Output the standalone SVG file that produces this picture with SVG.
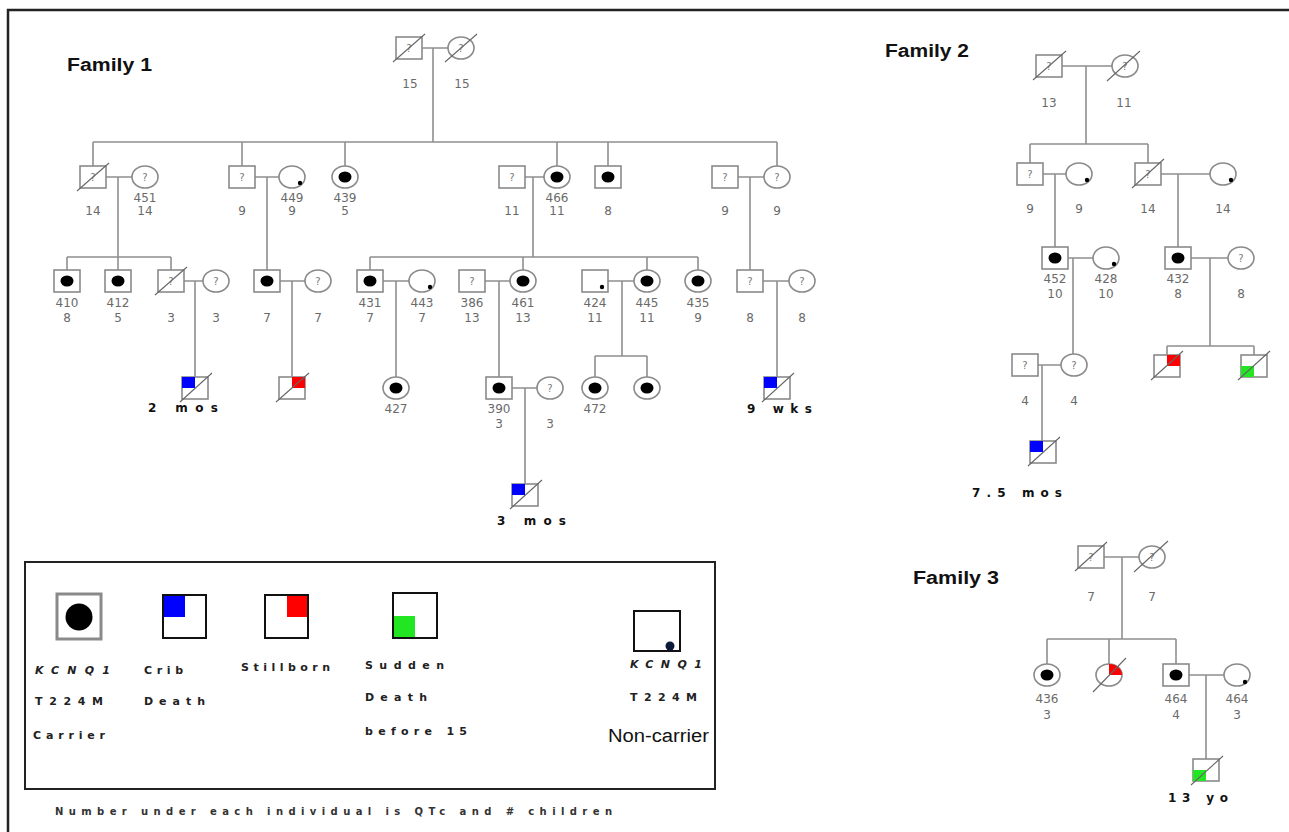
<svg xmlns="http://www.w3.org/2000/svg" width="1289" height="832" viewBox="0 0 1289 832">
<style>
.ln{stroke:#8f8f8f;stroke-width:1.6;fill:none}
.sym{fill:#fff;stroke:#8a8a8a;stroke-width:1.6}
.dec{stroke:#666;stroke-width:1.1}
.car{fill:#000}
.dot{fill:#000}
.num{font-family:"DejaVu Sans",sans-serif;font-size:12px;fill:#6a6a6a;text-anchor:middle}
.q{font-family:"DejaVu Sans",sans-serif;font-size:10px;fill:#777;text-anchor:middle}
.tag{font-family:"DejaVu Sans",sans-serif;font-weight:bold;font-size:12px;fill:#111}
.fam{font-family:"Liberation Sans",Arial,sans-serif;font-weight:bold;font-size:18px;fill:#111}
.leg{font-family:"DejaVu Sans",sans-serif;font-weight:bold;font-size:11px;fill:#222}
.blue{fill:#0000ff}.red{fill:#ff0000}.green{fill:#22e622}
.lsq{fill:#fff;stroke:#111;stroke-width:2}
</style>
<rect width="1289" height="832" fill="#fff"/>
<path d="M8,832V10H1289" fill="none" stroke="#222" stroke-width="2.5"/>

<text class="fam" x="67" y="71" textLength="85" lengthAdjust="spacingAndGlyphs">Family 1</text>
<text class="fam" x="885" y="57" textLength="84" lengthAdjust="spacingAndGlyphs">Family 2</text>
<text class="fam" x="913" y="584" textLength="86" lengthAdjust="spacingAndGlyphs">Family 3</text>

<g id="connectors">
<path class="ln" d="M422,48H448M433,48V142M93,142H777M93,142V166M242,142V166M345,142V166M557,142V166M608,142V166M777,142V166"/>
<path class="ln" d="M106,177H132M118,177V270M67,257H171M67,257V270M171,257V270"/>
<path class="ln" d="M255,177H279M267,177V270"/>
<path class="ln" d="M525,177H544M533,177V257M370,257H698M370,257V270M523,257V270M647,257V270M698,257V270"/>
<path class="ln" d="M738,177H764M750,177V270"/>
<path class="ln" d="M184,281H203M195,281V377M280,281H305M292,281V377M383,281H409M396,281V377M485,281H510M499,281V377"/>
<path class="ln" d="M608,281H634M622,281V356M595,356H647M595,356V377M647,356V377M763,281H789M777,281V377"/>
<path class="ln" d="M512,388H537M525,388V484"/>
<path class="ln" d="M1062,66H1112M1086,66V144M1030,144H1148M1030,144V163M1148,144V163"/>
<path class="ln" d="M1043,174H1066M1055,174V247M1161,174H1210M1178,174V247"/>
<path class="ln" d="M1068,258H1093M1073,258V354M1191,258H1228M1210,258V346M1167,346H1254M1167,346V355M1254,346V355"/>
<path class="ln" d="M1038,365H1061M1042,365V441"/>
<path class="ln" d="M1104,557H1139M1122,557V639M1047,639H1176M1047,639V664M1109,639V664M1176,639V664"/>
<path class="ln" d="M1189,675H1224M1206,675V759"/>
</g>

<!-- Family 1 -->
<g id="f1-i1"><rect class="sym" x="396" y="37" width="26" height="22"/><text class="q" x="409" y="52">?</text><line class="dec" x1="393" y1="62" x2="425" y2="34"/><text class="num" x="410" y="88">15</text></g>
<g id="f1-i2"><ellipse class="sym" cx="461" cy="48" rx="13" ry="11"/><text class="q" x="461" y="52">?</text><line class="dec" x1="445" y1="62" x2="477" y2="34"/><text class="num" x="462" y="88">15</text></g>

<g id="f1-ii1"><rect class="sym" x="80" y="166" width="26" height="22"/><text class="q" x="93" y="181">?</text><line class="dec" x1="77" y1="191" x2="109" y2="163"/><text class="num" x="93" y="215">14</text></g>
<g id="f1-ii2"><ellipse class="sym" cx="145" cy="177" rx="13" ry="11"/><text class="q" x="145" y="181">?</text><text class="num" x="145" y="202">451</text><text class="num" x="145" y="215">14</text></g>
<g id="f1-ii3"><rect class="sym" x="229" y="166" width="26" height="22"/><text class="q" x="242" y="181">?</text><text class="num" x="242" y="215">9</text></g>
<g id="f1-ii4"><ellipse class="sym" cx="292" cy="177" rx="13" ry="11"/><circle class="dot" cx="300" cy="183" r="2.2"/><text class="num" x="292" y="202">449</text><text class="num" x="292" y="215">9</text></g>
<g id="f1-ii5"><ellipse class="sym" cx="345" cy="177" rx="13" ry="11"/><ellipse class="car" cx="345" cy="177" rx="6.5" ry="5.5"/><text class="num" x="345" y="202">439</text><text class="num" x="345" y="215">5</text></g>
<g id="f1-ii6"><rect class="sym" x="499" y="166" width="26" height="22"/><text class="q" x="512" y="181">?</text><text class="num" x="512" y="215">11</text></g>
<g id="f1-ii7"><ellipse class="sym" cx="557" cy="177" rx="13" ry="11"/><ellipse class="car" cx="557" cy="177" rx="6.5" ry="5.5"/><text class="num" x="557" y="202">466</text><text class="num" x="557" y="215">11</text></g>
<g id="f1-ii8"><rect class="sym" x="595" y="166" width="26" height="22"/><ellipse class="car" cx="608" cy="177" rx="6.5" ry="5.5"/><text class="num" x="608" y="215">8</text></g>
<g id="f1-ii9"><rect class="sym" x="712" y="166" width="26" height="22"/><text class="q" x="725" y="181">?</text><text class="num" x="725" y="215">9</text></g>
<g id="f1-ii10"><ellipse class="sym" cx="777" cy="177" rx="13" ry="11"/><text class="q" x="777" y="181">?</text><text class="num" x="777" y="215">9</text></g>

<g id="f1-iii1"><rect class="sym" x="54" y="270" width="26" height="22"/><ellipse class="car" cx="67" cy="281" rx="6.5" ry="5.5"/><text class="num" x="67" y="307">410</text><text class="num" x="67" y="322">8</text></g>
<g id="f1-iii2"><rect class="sym" x="105" y="270" width="26" height="22"/><ellipse class="car" cx="118" cy="281" rx="6.5" ry="5.5"/><text class="num" x="118" y="307">412</text><text class="num" x="118" y="322">5</text></g>
<g id="f1-iii3"><rect class="sym" x="158" y="270" width="26" height="22"/><text class="q" x="171" y="285">?</text><line class="dec" x1="155" y1="295" x2="187" y2="267"/><text class="num" x="171" y="322">3</text></g>
<g id="f1-iii4"><ellipse class="sym" cx="216" cy="281" rx="13" ry="11"/><text class="q" x="216" y="285">?</text><text class="num" x="216" y="322">3</text></g>
<g id="f1-iii5"><rect class="sym" x="254" y="270" width="26" height="22"/><ellipse class="car" cx="267" cy="281" rx="6.5" ry="5.5"/><text class="num" x="267" y="322">7</text></g>
<g id="f1-iii6"><ellipse class="sym" cx="318" cy="281" rx="13" ry="11"/><text class="q" x="318" y="285">?</text><text class="num" x="318" y="322">7</text></g>
<g id="f1-iii7"><rect class="sym" x="357" y="270" width="26" height="22"/><ellipse class="car" cx="370" cy="281" rx="6.5" ry="5.5"/><text class="num" x="370" y="307">431</text><text class="num" x="370" y="322">7</text></g>
<g id="f1-iii8"><ellipse class="sym" cx="422" cy="281" rx="13" ry="11"/><circle class="dot" cx="430" cy="287" r="2.2"/><text class="num" x="422" y="307">443</text><text class="num" x="422" y="322">7</text></g>
<g id="f1-iii9"><rect class="sym" x="459" y="270" width="26" height="22"/><text class="q" x="472" y="285">?</text><text class="num" x="472" y="307">386</text><text class="num" x="472" y="322">13</text></g>
<g id="f1-iii10"><ellipse class="sym" cx="523" cy="281" rx="13" ry="11"/><ellipse class="car" cx="523" cy="281" rx="6.5" ry="5.5"/><text class="num" x="523" y="307">461</text><text class="num" x="523" y="322">13</text></g>
<g id="f1-iii11"><rect class="sym" x="582" y="270" width="26" height="22"/><circle class="dot" cx="602" cy="287" r="2.2"/><text class="num" x="595" y="307">424</text><text class="num" x="595" y="322">11</text></g>
<g id="f1-iii12"><ellipse class="sym" cx="647" cy="281" rx="13" ry="11"/><ellipse class="car" cx="647" cy="281" rx="6.5" ry="5.5"/><text class="num" x="647" y="307">445</text><text class="num" x="647" y="322">11</text></g>
<g id="f1-iii13"><ellipse class="sym" cx="698" cy="281" rx="13" ry="11"/><ellipse class="car" cx="698" cy="281" rx="6.5" ry="5.5"/><text class="num" x="698" y="307">435</text><text class="num" x="698" y="322">9</text></g>
<g id="f1-iii14"><rect class="sym" x="737" y="270" width="26" height="22"/><text class="q" x="750" y="285">?</text><text class="num" x="750" y="322">8</text></g>
<g id="f1-iii15"><ellipse class="sym" cx="802" cy="281" rx="13" ry="11"/><text class="q" x="802" y="285">?</text><text class="num" x="802" y="322">8</text></g>

<g id="f1-iv1"><rect class="sym" x="182" y="377" width="26" height="22"/><rect class="blue" x="182" y="377" width="13" height="11"/><line class="dec" x1="180" y1="402" x2="212" y2="373"/><text class="tag" x="148" y="412" textLength="70" lengthAdjust="spacing">2 mos</text></g>
<g id="f1-iv2"><rect class="sym" x="279" y="377" width="26" height="22"/><rect class="red" x="292" y="377" width="13" height="11"/><line class="dec" x1="276" y1="402" x2="309" y2="373"/></g>
<g id="f1-iv3"><ellipse class="sym" cx="396" cy="388" rx="13" ry="11"/><ellipse class="car" cx="396" cy="388" rx="6.5" ry="5.5"/><text class="num" x="396" y="413">427</text></g>
<g id="f1-iv4"><rect class="sym" x="486" y="377" width="26" height="22"/><ellipse class="car" cx="499" cy="388" rx="6.5" ry="5.5"/><text class="num" x="499" y="413">390</text><text class="num" x="499" y="428">3</text></g>
<g id="f1-iv5"><ellipse class="sym" cx="550" cy="388" rx="13" ry="11"/><text class="q" x="550" y="392">?</text><text class="num" x="550" y="428">3</text></g>
<g id="f1-iv6"><ellipse class="sym" cx="595" cy="388" rx="13" ry="11"/><ellipse class="car" cx="595" cy="388" rx="6.5" ry="5.5"/><text class="num" x="595" y="413">472</text></g>
<g id="f1-iv7"><ellipse class="sym" cx="647" cy="388" rx="13" ry="11"/><ellipse class="car" cx="647" cy="388" rx="6.5" ry="5.5"/></g>
<g id="f1-iv8"><rect class="sym" x="764" y="377" width="26" height="22"/><rect class="blue" x="764" y="377" width="13" height="11"/><line class="dec" x1="762" y1="402" x2="794" y2="373"/><text class="tag" x="747" y="413" textLength="65" lengthAdjust="spacing">9 wks</text></g>
<g id="f1-v1"><rect class="sym" x="512" y="484" width="26" height="22"/><rect class="blue" x="512" y="484" width="13" height="11"/><line class="dec" x1="510" y1="509" x2="542" y2="480"/><text class="tag" x="497" y="525" textLength="69" lengthAdjust="spacing">3 mos</text></g>

<!-- Family 2 -->
<g id="f2-i1"><rect class="sym" x="1036" y="55" width="26" height="22"/><text class="q" x="1049" y="70">?</text><line class="dec" x1="1033" y1="80" x2="1066" y2="51"/><text class="num" x="1049" y="107">13</text></g>
<g id="f2-i2"><ellipse class="sym" cx="1125" cy="66" rx="13" ry="11"/><text class="q" x="1125" y="70">?</text><line class="dec" x1="1107" y1="81" x2="1140" y2="51"/><text class="num" x="1124" y="107">11</text></g>
<g id="f2-ii1"><rect class="sym" x="1017" y="163" width="26" height="22"/><text class="q" x="1030" y="178">?</text><text class="num" x="1030" y="213">9</text></g>
<g id="f2-ii2"><ellipse class="sym" cx="1079" cy="174" rx="13" ry="11"/><circle class="dot" cx="1087" cy="180" r="2.2"/><text class="num" x="1079" y="213">9</text></g>
<g id="f2-ii3"><rect class="sym" x="1135" y="163" width="26" height="22"/><text class="q" x="1148" y="178">?</text><line class="dec" x1="1132" y1="188" x2="1164" y2="159"/><text class="num" x="1148" y="213">14</text></g>
<g id="f2-ii4"><ellipse class="sym" cx="1223" cy="174" rx="13" ry="11"/><circle class="dot" cx="1231" cy="180" r="2.2"/><text class="num" x="1223" y="213">14</text></g>
<g id="f2-iii1"><rect class="sym" x="1042" y="247" width="26" height="22"/><ellipse class="car" cx="1055" cy="258" rx="6.5" ry="5.5"/><text class="num" x="1055" y="283">452</text><text class="num" x="1055" y="298">10</text></g>
<g id="f2-iii2"><ellipse class="sym" cx="1106" cy="258" rx="13" ry="11"/><circle class="dot" cx="1114" cy="264" r="2.2"/><text class="num" x="1106" y="283">428</text><text class="num" x="1106" y="298">10</text></g>
<g id="f2-iii3"><rect class="sym" x="1165" y="247" width="26" height="22"/><ellipse class="car" cx="1178" cy="258" rx="6.5" ry="5.5"/><text class="num" x="1178" y="283">432</text><text class="num" x="1178" y="298">8</text></g>
<g id="f2-iii4"><ellipse class="sym" cx="1241" cy="258" rx="13" ry="11"/><text class="q" x="1241" y="262">?</text><text class="num" x="1241" y="298">8</text></g>
<g id="f2-iv1"><rect class="sym" x="1012" y="354" width="26" height="22"/><text class="q" x="1025" y="369">?</text><text class="num" x="1025" y="405">4</text></g>
<g id="f2-iv2"><ellipse class="sym" cx="1074" cy="365" rx="13" ry="11"/><text class="q" x="1074" y="369">?</text><text class="num" x="1074" y="405">4</text></g>
<g id="f2-iv3"><rect class="sym" x="1154" y="355" width="26" height="22"/><rect class="red" x="1167" y="355" width="13" height="11"/><line class="dec" x1="1151" y1="380" x2="1183" y2="351"/></g>
<g id="f2-iv4"><rect class="sym" x="1241" y="355" width="26" height="22"/><rect class="green" x="1241" y="366" width="13" height="11"/><line class="dec" x1="1238" y1="380" x2="1270" y2="351"/></g>
<g id="f2-v1"><rect class="sym" x="1030" y="441" width="26" height="22"/><rect class="blue" x="1030" y="441" width="13" height="11"/><line class="dec" x1="1028" y1="466" x2="1060" y2="437"/><text class="tag" x="972" y="497" textLength="90" lengthAdjust="spacing">7.5 mos</text></g>

<!-- Family 3 -->
<g id="f3-i1"><rect class="sym" x="1078" y="546" width="26" height="22"/><text class="q" x="1091" y="561">?</text><line class="dec" x1="1075" y1="571" x2="1107" y2="542"/><text class="num" x="1091" y="601">7</text></g>
<g id="f3-i2"><ellipse class="sym" cx="1152" cy="557" rx="13" ry="11"/><text class="q" x="1152" y="561">?</text><line class="dec" x1="1134" y1="572" x2="1168" y2="541"/><text class="num" x="1152" y="601">7</text></g>
<g id="f3-ii1"><ellipse class="sym" cx="1047" cy="675" rx="13" ry="11"/><ellipse class="car" cx="1047" cy="675" rx="6.5" ry="5.5"/><text class="num" x="1047" y="703">436</text><text class="num" x="1047" y="719">3</text></g>
<g id="f3-ii2"><ellipse class="sym" cx="1109" cy="675" rx="13" ry="11"/><path class="red" d="M1109,675V664A13,11 0 0 1 1122,675Z"/><line class="dec" x1="1093" y1="692" x2="1126" y2="658"/></g>
<g id="f3-ii3"><rect class="sym" x="1163" y="664" width="26" height="22"/><ellipse class="car" cx="1176" cy="675" rx="6.5" ry="5.5"/><text class="num" x="1176" y="703">464</text><text class="num" x="1176" y="719">4</text></g>
<g id="f3-ii4"><ellipse class="sym" cx="1237" cy="675" rx="13" ry="11"/><circle class="dot" cx="1245" cy="682" r="2.2"/><text class="num" x="1237" y="703">464</text><text class="num" x="1237" y="719">3</text></g>
<g id="f3-iii1"><rect class="sym" x="1193" y="759" width="26" height="22"/><rect class="green" x="1193" y="770" width="13" height="11"/><line class="dec" x1="1191" y1="785" x2="1223" y2="756"/><text class="tag" x="1168" y="802" textLength="60" lengthAdjust="spacing">13 yo</text></g>

<!-- Legend -->
<g id="legend">
<rect x="25" y="562" width="690" height="227" fill="none" stroke="#222" stroke-width="2"/>
<g id="leg-carrier"><rect x="57" y="594" width="44" height="45" fill="#fff" stroke="#8a8a8a" stroke-width="3"/><circle cx="79" cy="617" r="13.5" fill="#000"/>
<text class="leg" x="35" y="674" font-style="italic" textLength="75" lengthAdjust="spacing">KCNQ1</text>
<text class="leg" x="35" y="705" textLength="68" lengthAdjust="spacing">T224M</text>
<text class="leg" x="33" y="739" textLength="72" lengthAdjust="spacing">Carrier</text></g>
<g id="leg-crib"><rect class="lsq" x="163" y="595" width="43" height="43"/><rect class="blue" x="164" y="596" width="21" height="21"/>
<text class="leg" x="144" y="674" textLength="39" lengthAdjust="spacing">Crib</text>
<text class="leg" x="144" y="705" textLength="61" lengthAdjust="spacing">Death</text></g>
<g id="leg-still"><rect class="lsq" x="265" y="595" width="43" height="43"/><rect class="red" x="287" y="596" width="20" height="21"/>
<text class="leg" x="241" y="671" textLength="89" lengthAdjust="spacing">Stillborn</text></g>
<g id="leg-sudden"><rect class="lsq" x="393" y="593" width="44" height="45"/><rect class="green" x="394" y="616" width="21" height="21"/>
<text class="leg" x="365" y="669" textLength="79" lengthAdjust="spacing">Sudden</text>
<text class="leg" x="365" y="701" textLength="62" lengthAdjust="spacing">Death</text>
<text class="leg" x="365" y="735" textLength="102" lengthAdjust="spacing">before 15</text></g>
<g id="leg-noncarrier"><rect class="lsq" x="634" y="611" width="46" height="40"/><circle cx="670" cy="646" r="4.5" fill="#0b1a3a"/>
<text class="leg" x="630" y="668" font-style="italic" textLength="72" lengthAdjust="spacing">KCNQ1</text>
<text class="leg" x="630" y="701" textLength="67" lengthAdjust="spacing">T224M</text>
<text x="608" y="742" font-family="Liberation Sans, Arial, sans-serif" font-size="18" fill="#111" textLength="101" lengthAdjust="spacingAndGlyphs">Non-carrier</text></g>
</g>
<text x="55" y="815" font-family="DejaVu Sans, sans-serif" font-size="10" font-weight="bold" fill="#333" textLength="557" lengthAdjust="spacing">Number under each individual is QTc and # children</text>
</svg>
